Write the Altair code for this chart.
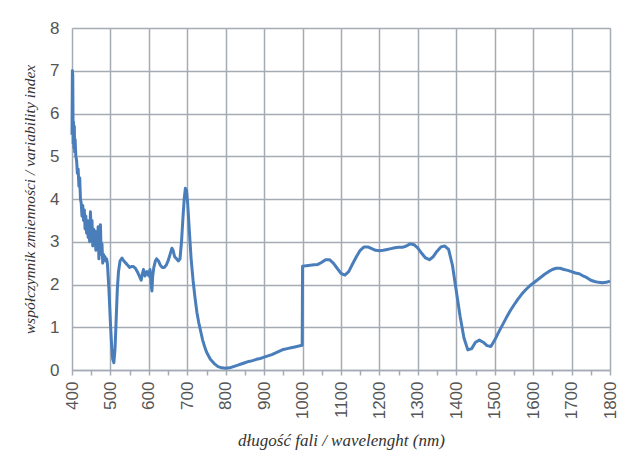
import altair as alt
import pandas as pd

wavelength = [
    400, 401, 402, 403, 404, 405, 406, 407, 408, 410, 412, 414, 416, 418, 420, 422, 424, 426, 428, 430,
    432, 434, 436, 438, 440, 442, 444, 446, 448, 450, 452, 454, 456, 458, 460, 462, 464, 466, 468, 470,
    472, 474, 476, 478, 480, 482, 484, 486, 488, 490, 492, 494, 496, 498, 500, 503, 506, 509, 512, 515,
    518, 521, 525, 530, 535, 540, 545, 550, 555, 560, 565, 570, 575, 580, 583, 586, 590, 595, 600, 603,
    606, 608, 610, 613, 617, 620, 625, 630, 635, 640, 645, 650, 655, 660, 663, 667, 672, 677, 681, 685,
    689, 692, 695, 698, 701, 705, 710, 715, 720, 725, 730, 735, 740, 745, 750, 760, 770, 780, 790, 800,
    810, 820, 830, 840, 850, 860, 870, 880, 890, 900, 910, 920, 930, 940, 950, 960, 970, 980, 990, 999,
    1000, 1010, 1020, 1030, 1040, 1050, 1060, 1070, 1080, 1090, 1100, 1110, 1120, 1130, 1140, 1150, 1160,
    1170, 1180, 1190, 1200, 1210, 1220, 1230, 1240, 1250, 1260, 1270, 1280, 1290, 1300, 1310, 1320, 1330,
    1340, 1350, 1360, 1370, 1380, 1390, 1400, 1410, 1420, 1430, 1440, 1450, 1460, 1470, 1480, 1490, 1500,
    1510, 1520, 1530, 1540, 1550, 1560, 1570, 1580, 1590, 1600, 1610, 1620, 1630, 1640, 1650, 1660, 1670,
    1680, 1690, 1700, 1710, 1720, 1730, 1740, 1750, 1760, 1770, 1780, 1790, 1800,
]

variability = [
    5.5, 7.0, 6.9, 5.3, 5.8, 5.2, 5.7, 5.1, 5.4, 5.0, 4.9, 4.6, 4.7, 4.3, 4.5, 4.0, 3.9, 3.6, 3.85, 3.5,
    3.75, 3.3, 3.6, 3.2, 3.5, 3.1, 3.4, 3.0, 3.7, 3.2, 3.5, 2.9, 3.3, 3.0, 3.25, 2.8, 3.1, 2.9, 3.35, 2.6,
    3.2, 3.4, 2.7, 2.95, 2.5, 2.7, 2.6, 2.65, 2.55, 2.6, 2.5, 2.2, 1.9, 1.5, 1.1, 0.6, 0.25, 0.17, 0.5, 1.2,
    1.9, 2.3, 2.55, 2.62, 2.55, 2.5, 2.45, 2.4, 2.42, 2.42, 2.38, 2.3, 2.2, 2.1, 2.25, 2.35, 2.2, 2.3, 2.2, 2.35,
    2.0, 1.85, 2.2, 2.4, 2.55, 2.6, 2.55, 2.45, 2.4, 2.4, 2.45, 2.55, 2.7, 2.85, 2.8, 2.65, 2.6, 2.55, 2.6, 3.0,
    3.6, 4.0, 4.25, 4.2, 3.9, 3.3, 2.6, 2.1, 1.7, 1.35, 1.1, 0.9, 0.7, 0.55, 0.42, 0.25, 0.15, 0.08, 0.05, 0.04,
    0.05, 0.08, 0.11, 0.14, 0.17, 0.2, 0.22, 0.25, 0.27, 0.3, 0.33, 0.36, 0.4, 0.44, 0.48, 0.5, 0.52, 0.54, 0.56, 0.58,
    2.43, 2.44, 2.45, 2.46, 2.47, 2.52, 2.58, 2.58, 2.5, 2.38, 2.26, 2.22, 2.3, 2.48, 2.65, 2.8, 2.88,
    2.88, 2.84, 2.8, 2.79, 2.8, 2.82, 2.84, 2.86, 2.87, 2.87, 2.9, 2.95, 2.93, 2.85, 2.73, 2.62, 2.58,
    2.65, 2.78, 2.88, 2.9, 2.82, 2.45, 1.85, 1.25, 0.75, 0.47, 0.5, 0.65, 0.7, 0.65, 0.57, 0.55, 0.7,
    0.88, 1.05, 1.22, 1.38, 1.52, 1.65, 1.77, 1.87, 1.96, 2.03, 2.1, 2.17, 2.24, 2.3, 2.35, 2.38, 2.38,
    2.35, 2.33, 2.3, 2.27, 2.25, 2.2, 2.16, 2.1, 2.07, 2.05, 2.04, 2.05, 2.08,
]

x_ticks = list(range(400, 1801, 50))
y_ticks = list(range(0, 9))

df = pd.DataFrame({"wl": wavelength, "v": variability})

grid_col = "#a4abb4"
label_col = "#555555"

chart = alt.Chart(df).mark_line(color="#4a7ebb", strokeWidth=3, strokeJoin="round").encode(
    x=alt.X(
        "wl:Q",
        scale=alt.Scale(domain=[400, 1800], nice=False, zero=False),
        axis=alt.Axis(
            values=x_ticks,
            format="d",
            title="długość fali / wavelenght (nm)",
            labelExpr="datum.value % 100 == 0 ? datum.label : ''",
            labelAngle=-90,
            labelAlign="right",
            labelBaseline="middle",
            labelFont="Liberation Sans",
            labelFontSize=17,
            labelColor=label_col,
            labelPadding=6,
            labelOverlap=False,
            tickSize=5,
            tickColor=grid_col,
            tickWidth=1.5,
            domainColor=grid_col,
            domainWidth=1.5,
            grid=True,
            gridColor=grid_col,
            gridWidth=1.5,
            gridOpacity={"condition": {"test": "datum.value % 100 != 0", "value": 0}, "value": 1},
            titleFont="Liberation Serif",
            titleFontStyle="italic",
            titleFontWeight="normal",
            titleFontSize=17,
            titleColor="#333333",
            titlePadding=14,
        ),
    ),
    y=alt.Y(
        "v:Q",
        scale=alt.Scale(domain=[0, 8], nice=False),
        axis=alt.Axis(
            values=y_ticks,
            title="współczynnik zmienności / variability index",
            labelFont="Liberation Sans",
            labelFontSize=17,
            labelColor=label_col,
            labelPadding=13,
            tickSize=0,
            domain=False,
            grid=True,
            gridColor=grid_col,
            gridWidth=1.5,
            titleFont="Liberation Serif",
            titleFontStyle="italic",
            titleFontWeight="normal",
            titleFontSize=15.5,
            titleColor="#333333",
            titlePadding=12,
        ),
    ),
).properties(
    width=538,
    height=342,
    autosize=alt.AutoSizeParams(type="none"),
    padding={"left": 64, "top": 20, "right": 10, "bottom": 80},
).configure_view(
    stroke=grid_col, strokeWidth=1.5
).configure(background="white")

chart.save("out.html", embed_options={"renderer": "svg", "actions": False})
